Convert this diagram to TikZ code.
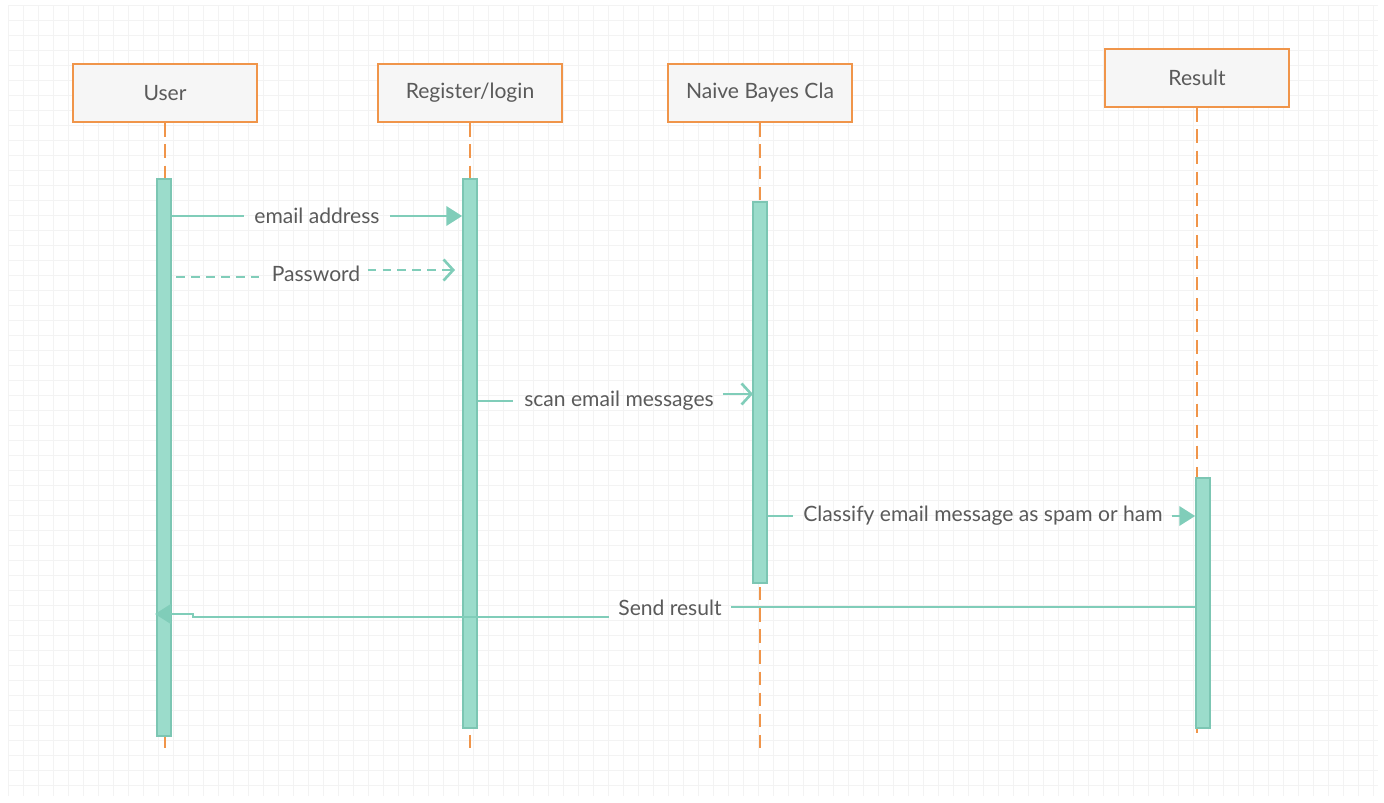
\documentclass[tikz,border=0pt]{standalone}
\usepackage{fontspec}
\setmainfont{Lato}
\usetikzlibrary{arrows.meta,positioning,calc}

\definecolor{boxorange}{HTML}{F0954A}
\definecolor{boxfill}{HTML}{F6F6F6}
\definecolor{barfill}{HTML}{9BDCCB}
\definecolor{barline}{HTML}{7CC6B3}
\definecolor{msgline}{HTML}{80CDB9}
\definecolor{labelgray}{HTML}{5A5A5A}
\definecolor{gridgray}{HTML}{F3F3F3}

\begin{document}
\begin{tikzpicture}[
    x=0.02cm, y=-0.02cm,
    font=\fontsize{12}{14}\selectfont,
    actor/.style={rectangle,draw=boxorange,fill=boxfill,line width=1.6pt,
                  minimum width=3.68cm,minimum height=1.16cm,
                  text=labelgray},
    lifeline/.style={draw=boxorange,line width=1.4pt,
                     dash pattern=on 7.5pt off 4.5pt},
    activation/.style={rectangle,draw=barline,fill=barfill,line width=1pt,
                       minimum width=0.28cm,inner sep=0pt},
    msg/.style={draw=msgline,line width=1.5pt},
    msglabel/.style={text=labelgray,inner sep=0pt},
    sync/.style={msg,-{Triangle[length=9pt,width=11pt]}},
    async/.style={msg,-{Straight Barb[length=5.5pt,width=12pt,line width=1.5pt]}},
    gridline/.style={draw=gridgray,line width=0.5pt}]

    \useasboundingbox (0,0) rectangle (1384,802);

    % background grid
    \foreach \gx in {8,23,...,1380}
      \draw[gridline] (\gx,5) -- (\gx,796);
    \foreach \gy in {5,20,...,797}
      \draw[gridline] (8,\gy) -- (1378,\gy);

    % participants
    \node[actor] (user)     at (165,93)  {User};
    \node[actor] (register) at (470,93)  {Register/login};
    \node[actor] (bayes)    at (760,93)  {Naive Bayes Cla};
    \node[actor] (result)   at (1197,78) {Result};

    % lifelines
    \coordinate (userend)     at (165,752);
    \coordinate (registerend) at (470,752);
    \coordinate (bayesend)    at (760,752);
    \coordinate (resultend)   at (1197,740);
    \draw[lifeline] (user.south)     -- (userend);
    \draw[lifeline] (register.south) -- (registerend);
    \draw[lifeline] (bayes.south)    -- (bayesend);
    \draw[lifeline] (result.south)   -- (resultend);

    % activation bars
    \node[activation,minimum height=11.14cm] (userbar)     at (164,457.5) {};
    \node[activation,minimum height=10.98cm] (registerbar) at (470,453.5) {};
    \node[activation,minimum height=7.62cm]  (bayesbar)    at (760,392.5) {};
    \node[activation,minimum height=5cm]     (resultbar)   at (1203,603)  {};

    % messages
    \node[msglabel] (email) at (317,216) {email address};
    \draw[msg]  (userbar.east |- email) -- ([xshift=-6pt]email.west);
    \draw[sync] ([xshift=6pt]email.east) -- (registerbar.west |- email);

    \node[msglabel] (password) at (316,274) {Password};
    \coordinate (pwstart) at (176,277);
    \coordinate (pwend)   at (455,270);
    \draw[msg,dash pattern=on 5pt off 3.5pt] (pwstart) -- ([xshift=-7pt]password.west |- pwstart);
    \draw[async,dash pattern=on 5pt off 3.5pt] ([xshift=4pt]password.east |- pwend) -- (pwend);

    \node[msglabel] (scan) at (619,401) {scan email messages};
    \coordinate (scanend) at (753,394);
    \draw[msg]   (registerbar.east |- scan) -- ([xshift=-6pt]scan.west);
    \draw[async] ([xshift=5pt]scan.east |- scanend) -- (scanend);

    \node[msglabel] (classify) at (983,516) {Classify email message as spam or ham};
    \draw[msg]  (bayesbar.east |- classify) -- ([xshift=-6pt]classify.west);
    \draw[sync] ([xshift=5pt]classify.east) -- (resultbar.west |- classify);

    \node[msglabel] (send) at (670,608) {Send result};
    \coordinate (sendjog) at (193,617);
    \coordinate (sendend) at (155,614);
    \draw[msg] (resultbar.west |- 0,607) -- ([xshift=5pt]send.east |- 0,607);
    \draw[sync] ([xshift=-5pt]send.west |- sendjog) -- (sendjog)
                -- (sendjog |- sendend) -- (sendend);
\end{tikzpicture}
\end{document}
